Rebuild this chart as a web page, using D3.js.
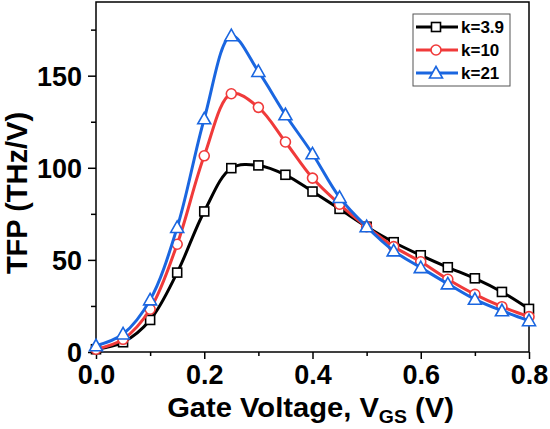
<!DOCTYPE html>
<html>
<head>
<meta charset="utf-8">
<script src="https://cdn.jsdelivr.net/npm/d3@7"></script>
<style>
  body { margin: 0; background: #fff; }
  svg { font-family: "Liberation Sans", Arial, sans-serif; font-weight: bold; }
</style>
</head>
<body>
<div id="chart"></div>
<script>
// gate voltage samples (V)
var vgs = [0, 0.05, 0.1, 0.15, 0.2, 0.25, 0.3, 0.35, 0.4, 0.45, 0.5, 0.55, 0.6, 0.65, 0.7, 0.75, 0.8];

// TFP (THz/V)
var tfpK39 = [1.5, 5.3, 17.4, 43.1, 76.3, 99.8, 101.3, 96.2, 87.1, 77.7, 68, 59.6, 52.5, 46, 40, 32.6, 23.4];
var tfpK10 = [1.5, 6.9, 23.2, 58.5, 106.5, 140.2, 132.8, 114, 94.4, 80.2, 68, 57.2, 49, 39.5, 31.3, 24.6, 19.2];
var tfpK21 = [3.4, 9.8, 28.3, 67.6, 126.6, 171.7, 152.3, 128.8, 107.6, 83.9, 68, 54.9, 45.8, 37, 28.6, 22.4, 17];

var seriesNames = ["k=3.9", "k=10", "k=21"];
var seriesColors = ["#000000", "#f03a3a", "#1a66e0"];
var seriesMarkers = ["square", "circle", "triangle"];

var xTicks = [0, 0.2, 0.4, 0.6, 0.8];
var xMinor = [0.1, 0.3, 0.5, 0.7];
var yTicks = [0, 50, 100, 150];
var yMinor = [25, 75, 125, 175];

var series = [tfpK39, tfpK10, tfpK21].map(function (vals, i) {
    return {
        name: seriesNames[i],
        color: seriesColors[i],
        marker: seriesMarkers[i],
        values: vals.map(function (v, j) { return {x: vgs[j], y: v}; })
    };
});

var margin = {top: 2, right: 21, bottom: 77, left: 96},
    width = 550 - margin.left - margin.right,
    height = 429 - margin.top - margin.bottom;

var svg = d3.select("#chart").append("svg")
    .attr("width", 550)
    .attr("height", 429);

var g = svg.append("g")
    .attr("transform", "translate(" + margin.left + "," + margin.top + ")");

var x = d3.scaleLinear().domain([0, 0.8]).range([0, width]);
var y = d3.scaleLinear().domain([0, 190]).range([height, 0]);

// frame
g.append("rect")
    .attr("width", width)
    .attr("height", height)
    .attr("fill", "none")
    .attr("stroke", "#000")
    .attr("stroke-width", 1.5);

// minor ticks
g.append("g")
    .attr("transform", "translate(0," + height + ")")
    .call(d3.axisBottom(x).tickValues(xMinor).tickSize(4).tickFormat(""))
    .call(function (a) { a.select(".domain").remove(); })
    .selectAll("line").attr("stroke-width", 1.5);

g.append("g")
    .call(d3.axisLeft(y).tickValues(yMinor).tickSize(5).tickFormat(""))
    .call(function (a) { a.select(".domain").remove(); })
    .selectAll("line").attr("stroke-width", 1.5);

// major ticks and labels
var xAxis = g.append("g")
    .attr("transform", "translate(0," + height + ")")
    .call(d3.axisBottom(x).tickValues(xTicks).tickSize(7).tickPadding(6).tickFormat(d3.format(".1f")));
xAxis.select(".domain").remove();
xAxis.selectAll("line").attr("stroke-width", 1.5);
xAxis.selectAll("text")
    .attr("fill", "#000")
    .style("font-size", "27px")
    .style("font-weight", "bold");

var yAxis = g.append("g")
    .call(d3.axisLeft(y).tickValues(yTicks).tickSize(8).tickPadding(6));
yAxis.select(".domain").remove();
yAxis.selectAll("line").attr("stroke-width", 1.5);
yAxis.selectAll("text")
    .attr("fill", "#000")
    .attr("dy", "0.35em")
    .style("font-size", "27px")
    .style("font-weight", "bold");

// axis titles
var xTitle = svg.append("text")
    .attr("transform", "translate(" + (margin.left + width / 2 - 2) + ",417) scale(1.08,1)")
    .attr("text-anchor", "middle")
    .style("font-size", "27px");
xTitle.append("tspan").text("Gate Voltage, V");
xTitle.append("tspan").attr("dy", 6).style("font-size", "18px").text("GS");
xTitle.append("tspan").attr("dy", -6).text(" (V)");

svg.append("text")
    .attr("transform", "translate(27,193) rotate(-90)")
    .attr("text-anchor", "middle")
    .style("font-size", "29px")
    .text("TFP (THz/V)");

// curves
var line = d3.line()
    .curve(d3.curveCatmullRom)
    .x(function (d) { return x(d.x); })
    .y(function (d) { return y(d.y); });

function drawMarker(sel, type, color) {
    if (type === "square") {
        sel.append("rect")
            .attr("x", -4.5).attr("y", -4.5)
            .attr("width", 9).attr("height", 9)
            .attr("fill", "#fff").attr("stroke", color).attr("stroke-width", 1.6);
    } else if (type === "circle") {
        sel.append("circle")
            .attr("r", 5)
            .attr("fill", "#fff").attr("stroke", color).attr("stroke-width", 1.6);
    } else {
        sel.append("path")
            .attr("d", "M0,-6.5L6.5,5L-6.5,5Z")
            .attr("fill", "#fff").attr("stroke", color).attr("stroke-width", 1.6);
    }
}

var plot = g.append("g");

series.forEach(function (s) {
    var sg = plot.append("g");
    sg.append("path")
        .datum(s.values)
        .attr("d", line)
        .attr("fill", "none")
        .attr("stroke", s.color)
        .attr("stroke-width", 3);
    sg.selectAll(".pt")
        .data(s.values)
        .enter()
        .append("g")
        .attr("class", "pt")
        .attr("transform", function (d) { return "translate(" + x(d.x) + "," + y(d.y) + ")"; })
        .each(function () { drawMarker(d3.select(this), s.marker, s.color); });
});

// legend
var legend = svg.append("g").attr("transform", "translate(413,14)");
legend.append("rect")
    .attr("width", 97)
    .attr("height", 72)
    .attr("fill", "#fff")
    .attr("stroke", "#555")
    .attr("stroke-width", 1);

series.forEach(function (s, i) {
    var row = legend.append("g").attr("transform", "translate(0," + (13 + i * 23) + ")");
    row.append("line")
        .attr("x1", 3).attr("x2", 45)
        .attr("stroke", s.color).attr("stroke-width", 3);
    var m = row.append("g").attr("transform", "translate(23,0)");
    drawMarker(m, s.marker, s.color);
    row.append("text")
        .attr("x", 48)
        .attr("dy", "0.35em")
        .style("font-size", "17px")
        .text(s.name);
});
</script>
</body>
</html>
